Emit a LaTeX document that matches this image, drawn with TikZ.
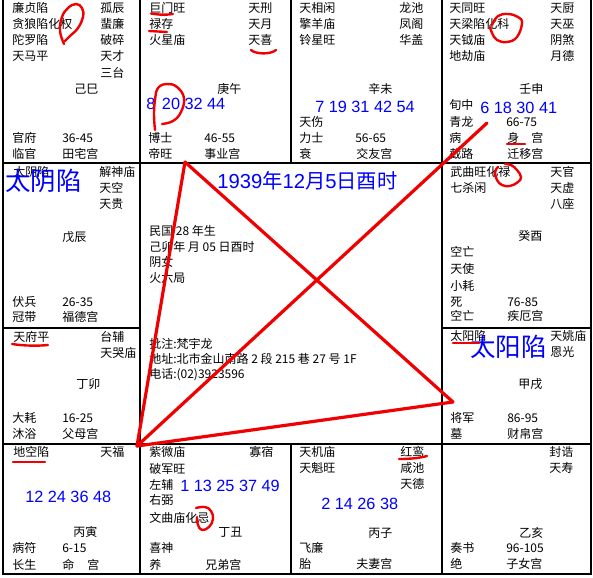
\documentclass[tikz,border=0pt]{standalone}
\usepackage{fontspec}
\setmainfont{Noto Sans CJK SC}
\newfontfamily\arialf{Liberation Sans}
\definecolor{numblue}{RGB}{0,0,255}
\definecolor{penred}{RGB}{240,0,0}
\tikzset{
  tx/.style={anchor=west, inner sep=0pt, font=\fontsize{9}{9}\selectfont, text height=7.5pt, text depth=0.6pt},
  num/.style={anchor=west, inner sep=0pt, text=numblue, font=\arialf\fontsize{12.2}{12}\selectfont, text height=8.7pt, text depth=0pt},
  ttl/.style={anchor=west, inner sep=0pt, text=numblue, font=\fontsize{15.2}{15}\selectfont, text height=10.9pt, text depth=0pt},
  bigtx/.style={anchor=west, inner sep=0pt, text=numblue, font=\fontsize{19.1}{19}\selectfont, text height=15.9pt, text depth=1.3pt},
  gridline/.style={draw=black, line width=1.8pt},
  redpen/.style={draw=penred, line width=1.8pt, line cap=round, line join=round},
  xline/.style={draw=penred, line width=2.4pt, line cap=round}
}
\begin{document}
\begin{tikzpicture}[x=0.75pt,y=-0.75pt]
\useasboundingbox (0,0) rectangle (593,578);
\fill[white] (0,0) rectangle (593,578);
% grid
\draw[gridline] (3,0) -- (3,574) -- (591,574) -- (591,0);
\draw[gridline] (140,0) -- (140,574);
\draw[gridline] (442,0) -- (442,574);
\draw[gridline] (3,163) -- (591,163);
\draw[gridline] (3,444) -- (591,444);
\draw[gridline] (3,328) -- (140,328);
\draw[gridline] (442,328) -- (591,328);
\draw[gridline] (291,0) -- (291,163);
\draw[gridline] (291,444) -- (291,574);
% cell si
\node[tx] (s1) at (12,7.5) {廉贞陷};
\node[tx] (s2) at (12,23.5) {贪狼陷化权};
\node[tx] (s3) at (12,40) {陀罗陷};
\node[tx] (s4) at (12,56) {天马平};
\node[tx] (s5) at (100,7.5) {孤辰};
\node[tx] (s6) at (100,23.5) {蜚廉};
\node[tx] (s7) at (100,40) {破碎};
\node[tx] (s8) at (100,56) {天才};
\node[tx] (s9) at (100,72.5) {三台};
\node[tx] (s10) at (74,89) {己巳};
\node[tx] (s11) at (12,137.5) {官府};
\node[tx] (s12) at (62,137.5) {36-45};
\node[tx] (s13) at (12,153.5) {临官};
\node[tx] (s14) at (62,153.5) {田宅宫};
% cell wu
\node[tx] (w1) at (149,7.5) {巨门旺};
\node[tx] (w2) at (149,23.5) {禄存};
\node[tx] (w3) at (149,40) {火星庙};
\node[tx] (w4) at (248,7.5) {天刑};
\node[tx] (w5) at (248,23.5) {天月};
\node[tx] (w6) at (248,40) {天喜};
\node[tx] (w7) at (217,89) {庚午};
\node[num] (w8) at (146,104) {8\hspace{5pt}20 32 44};
\node[tx] (w9) at (148,137.5) {博士};
\node[tx] (w10) at (204,137.5) {46-55};
\node[tx] (w11) at (148,153.5) {帝旺};
\node[tx] (w12) at (204,153.5) {事业宫};
% cell wei
\node[tx] (v1) at (299,7.5) {天相闲};
\node[tx] (v2) at (299,23.5) {擎羊庙};
\node[tx] (v3) at (299,40) {铃星旺};
\node[tx] (v4) at (399,7.5) {龙池};
\node[tx] (v5) at (399,23.5) {凤阁};
\node[tx] (v6) at (399,40) {华盖};
\node[tx] (v7) at (368,88.5) {辛未};
\node[num] (v8) at (315,107) {7 19 31 42 54};
\node[tx] (v9) at (299,122) {天伤};
\node[tx] (v10) at (299,138) {力士};
\node[tx] (v11) at (355,138) {56-65};
\node[tx] (v12) at (299,153.5) {衰};
\node[tx] (v13) at (356,153.5) {交友宫};
% cell shen
\node[tx] (h1) at (449,7.5) {天同旺};
\node[tx] (h2) at (449,23.5) {天梁陷化科};
\node[tx] (h3) at (449,40) {天钺庙};
\node[tx] (h4) at (449,56) {地劫庙};
\node[tx] (h5) at (550,7.5) {天厨};
\node[tx] (h6) at (550,23.5) {天巫};
\node[tx] (h7) at (550,40) {阴煞};
\node[tx] (h8) at (550,56) {月德};
\node[tx] (h9) at (519,88.5) {壬申};
\node[tx] (h10) at (449,105) {旬中};
\node[num] (h11) at (480,108) {6 18 30 41};
\node[tx] (h12) at (449,122) {青龙};
\node[tx] (h13) at (506,122) {66-75};
\node[tx] (h14) at (449,138) {病};
\node[tx] (h15) at (507,138) {身};
\node[tx] (h16) at (531,138) {宫};
\node[tx] (h17) at (449,153.5) {截路};
\node[tx] (h18) at (507,153.5) {迁移宫};
% cell chen
\node[tx] (c1) at (13,171.5) {太阴陷};
\node[bigtx] (c2) at (5,181) {太阴陷};
\node[tx] (c3) at (99,172) {解神庙};
\node[tx] (c4) at (99,188) {天空};
\node[tx] (c5) at (99,204) {天贵};
\node[tx] (c6) at (62,237) {戊辰};
\node[tx] (c7) at (12,302) {伏兵};
\node[tx] (c8) at (62,302) {26-35};
\node[tx] (c9) at (12,317) {冠带};
\node[tx] (c10) at (62,317) {福德宫};
% cell mao
\node[tx] (m1) at (13,337) {天府平};
\node[tx] (m2) at (100,337) {台辅};
\node[tx] (m3) at (100,353) {天哭庙};
\node[tx] (m4) at (76,384) {丁卯};
\node[tx] (m5) at (12,418) {大耗};
\node[tx] (m6) at (62,418) {16-25};
\node[tx] (m7) at (12,434) {沐浴};
\node[tx] (m8) at (62,434) {父母宫};
% cell you
\node[tx] (y1) at (450,172) {武曲旺化禄};
\node[tx] (y2) at (450,188) {七杀闲};
\node[tx] (y3) at (550,172) {天官};
\node[tx] (y4) at (550,188) {天虚};
\node[tx] (y5) at (550,204) {八座};
\node[tx] (y6) at (518,236) {癸酉};
\node[tx] (y7) at (450,252) {空亡};
\node[tx] (y8) at (450,269) {天使};
\node[tx] (y9) at (450,286) {小耗};
\node[tx] (y10) at (450,302) {死};
\node[tx] (y11) at (507,302) {76-85};
\node[tx] (y12) at (450,316) {空亡};
\node[tx] (y13) at (507,316) {疾厄宫};
% cell xu
\node[tx] (x1) at (450,336) {太阳陷};
\node[bigtx] (x2) at (470,347) {太阳陷};
\node[tx] (x3) at (550,336) {天姚庙};
\node[tx] (x4) at (550,352) {恩光};
\node[tx] (x5) at (518,384) {甲戌};
\node[tx] (x6) at (450,418) {将军};
\node[tx] (x7) at (507,418) {86-95};
\node[tx] (x8) at (450,434) {墓};
\node[tx] (x9) at (507,434) {财帛宫};
% cell yin
\node[tx] (i1) at (13,452) {地空陷};
\node[tx] (i2) at (100,452) {天福};
\node[num] (i3) at (25,497) {12 24 36 48};
\node[tx] (i4) at (73,532) {丙寅};
\node[tx] (i5) at (12,548) {病符};
\node[tx] (i6) at (62,548) {6-15};
\node[tx] (i7) at (12,565) {长生};
\node[tx] (i8) at (62,565) {命};
\node[tx] (i9) at (87,565) {宫};
% cell chou
\node[tx] (o1) at (149,452) {紫微庙};
\node[tx] (o2) at (249,452) {寡宿};
\node[tx] (o3) at (149,469) {破军旺};
\node[tx] (o4) at (149,485) {左辅};
\node[num] (o5) at (180,486) {1 13 25 37 49};
\node[tx] (o6) at (149,500) {右弼};
\node[tx] (o7) at (149,518) {文曲庙化忌};
\node[tx] (o8) at (218,532) {丁丑};
\node[tx] (o9) at (149,548) {喜神};
\node[tx] (o10) at (149,565) {养};
\node[tx] (o11) at (205,565) {兄弟宫};
% cell zi
\node[tx] (z1) at (299,452) {天机庙};
\node[tx] (z2) at (299,468) {天魁旺};
\node[tx] (z3) at (400,452) {红鸾};
\node[tx] (z4) at (400,468) {咸池};
\node[tx] (z5) at (400,484) {天德};
\node[num] (z6) at (321,504) {2 14 26 38};
\node[tx] (z7) at (368,533) {丙子};
\node[tx] (z8) at (299,548) {飞廉};
\node[tx] (z9) at (299,564) {胎};
\node[tx] (z10) at (356,564) {夫妻宫};
% cell hai
\node[tx] (a1) at (549,452) {封诰};
\node[tx] (a2) at (549,468) {天寿};
\node[tx] (a3) at (519,533) {乙亥};
\node[tx] (a4) at (450,548) {奏书};
\node[tx] (a5) at (506,548) {96-105};
\node[tx] (a6) at (450,564) {绝};
\node[tx] (a7) at (506,564) {子女宫};
% center
\node[ttl] (t0) at (217,181) {{\arialf 1939}年{\arialf 12}月{\arialf 5}日酉时};
\node[tx] (t1) at (149,231) {民国 28 年生};
\node[tx] (t2) at (149,247) {己卯年 月 05 日酉时};
\node[tx] (t3) at (149,262) {阴女};
\node[tx] (t4) at (149,278) {火六局};
\node[tx] (t5) at (149,344) {批注:梵宇龙};
\node[tx] (t6) at (149,359) {地址:北市金山南路 2 段 215 巷 27 号 1F};
\node[tx] (t7) at (149,374) {电话:(02)3923596};
% red annotations: circles
\draw[redpen] plot[smooth, tension=0.7] coordinates {(64,44) (60,31) (62,17) (68,8) (76,4) (82,8) (83,17) (78,28) (70,36) (65,41)};
\draw[redpen] plot[smooth, tension=0.7] coordinates {(155,130) (154,115) (155,100) (158,88) (167,84) (177,87) (184,98) (181,112) (173,121) (162,124)};
\draw[redpen] plot[smooth, tension=0.7] coordinates {(492,25) (498,16) (508,14) (518,17) (522,23) (517,37) (507,42) (497,40) (492,33) (490,27)};
\draw[redpen] plot[smooth, tension=0.7] coordinates {(505,164) (511,165) (517,170) (521,177) (518,182) (510,186) (502,185) (497,180) (495,172) (498,167)};
\draw[redpen] plot[smooth, tension=0.7] coordinates {(196,508) (205,507) (211,511) (213,519) (209,527) (202,530) (198,525) (197,517)};
% red underlines
\draw[redpen] (151,13.5) .. controls (160,15) and (166,15) .. (173,14);
\draw[redpen] (149,31) -- (167,32);
\draw[redpen] (251,50) .. controls (255,54) and (270,55) .. (276,50);
\draw[redpen] (507,144) -- (525,144);
\draw[redpen] (12,344) .. controls (25,346) and (38,346) .. (48,345);
\draw[redpen] (453,343) -- (479,343);
\draw[redpen] (13,462) -- (45,462);
\draw[redpen] (399,459) .. controls (410,459) and (420,458) .. (427,456);
% red cross lines
\coordinate (A) at (185,162);
\coordinate (B) at (137,446);
\coordinate (C) at (453,402);
\coordinate (D) at (487,123);
\draw[xline] (A) -- (B);
\draw[xline] (B) -- (C);
\draw[xline] (A) -- (C);
\draw[xline] (B) -- (D);
\end{tikzpicture}
\end{document}
